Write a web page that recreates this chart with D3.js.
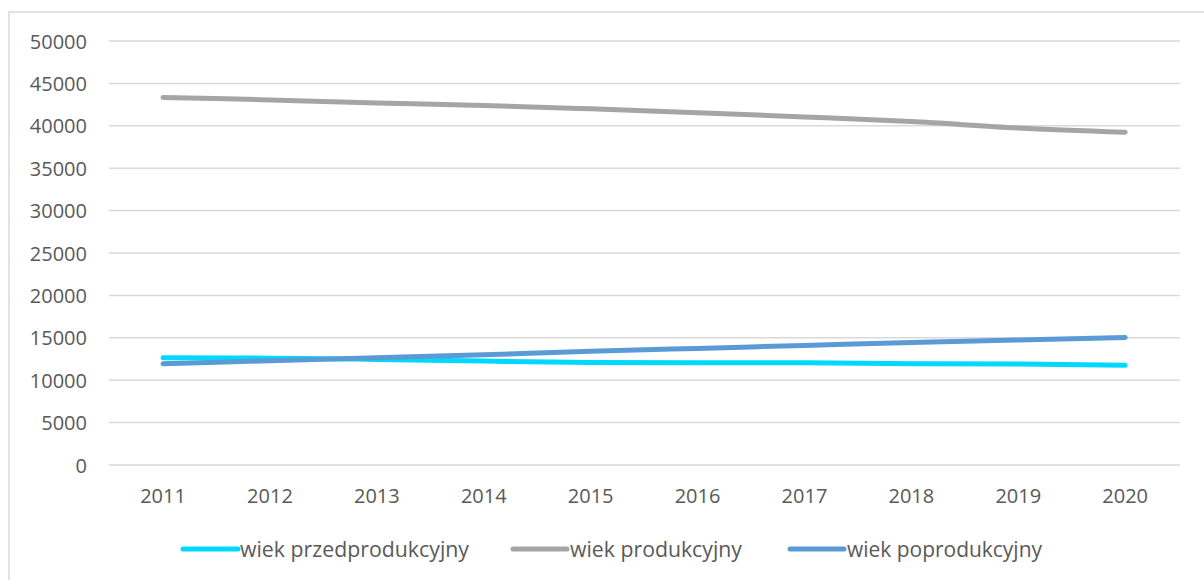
<!DOCTYPE html>
<html>
<head>
<meta charset="utf-8">
<script src="https://cdn.jsdelivr.net/npm/d3@7"></script>
<style>
  html, body { margin: 0; padding: 0; background: #fff; }
  svg { display: block; }
  text { font-family: "Open Sans", sans-serif; fill: #595959; }
</style>
</head>
<body>
<svg id="chart" width="1204" height="580"></svg>
<script>
const years = ["2011","2012","2013","2014","2015","2016","2017","2018","2019","2020"];
const przedprodukcyjny = [12650, 12600, 12450, 12250, 12100, 12050, 12050, 11950, 11900, 11750];
const produkcyjny      = [43350, 43050, 42700, 42400, 42000, 41550, 41050, 40500, 39750, 39250];
const poprodukcyjny    = [11950, 12300, 12650, 13000, 13400, 13750, 14100, 14450, 14750, 15050];
const seriesNames = ["wiek przedprodukcyjny", "wiek produkcyjny", "wiek poprodukcyjny"];
const yTicks = [0, 5000, 10000, 15000, 20000, 25000, 30000, 35000, 40000, 45000, 50000];

const colors = ["#00D9FF", "#A5A5A5", "#5B9BD5"];
const seriesData = [przedprodukcyjny, produkcyjny, poprodukcyjny];

const svg = d3.select("#chart");

// outer border
svg.append("rect")
  .attr("x", 9).attr("y", 12).attr("width", 1200).attr("height", 580)
  .attr("fill", "none").attr("stroke", "#D9D9D9").attr("stroke-width", 1.5);

const x = d3.scaleBand().domain(years).range([109.6, 1178.6]);
const y = d3.scaleLinear().domain([0, 50000]).range([465, 41]);

// gridlines
svg.append("g").selectAll("line").data(yTicks).join("line")
  .attr("x1", 109).attr("x2", 1180)
  .attr("y1", d => y(d)).attr("y2", d => y(d))
  .attr("stroke", "#D9D9D9").attr("stroke-width", 1.5);

// y axis labels
const yAxis = d3.axisLeft(y).tickValues(yTicks).tickSize(0).tickPadding(0).tickFormat(d3.format("d"));
const gy = svg.append("g").attr("transform", "translate(87,0)").call(yAxis);
gy.select(".domain").remove();
gy.selectAll("text").attr("font-size", 20).attr("font-family", "Open Sans").attr("fill", "#595959").attr("dy", "0.35em");

// x axis labels
const xAxis = d3.axisBottom(x).tickSize(0).tickPadding(0);
const gx = svg.append("g").attr("transform", "translate(0,465)").call(xAxis);
gx.select(".domain").remove();
gx.selectAll("text").attr("font-size", 20).attr("font-family", "Open Sans").attr("fill", "#595959")
  .attr("y", 38).attr("dy", 0);

// lines
const line = d3.line()
  .x((d, i) => x(years[i]) + x.bandwidth() / 2)
  .y(d => y(d))
  .curve(d3.curveCardinal.tension(0));

svg.append("g").selectAll("path").data(seriesData).join("path")
  .attr("d", d => line(d))
  .attr("fill", "none")
  .attr("stroke", (d, i) => colors[i])
  .attr("stroke-width", 5)
  .attr("stroke-linecap", "round")
  .attr("stroke-linejoin", "round");

// legend
const legendItems = [
  { x1: 183, x2: 238, tx: 240, w: 229 },
  { x1: 513, x2: 567, tx: 570, w: 172 },
  { x1: 790, x2: 844, tx: 847, w: 195 }
];
const lg = svg.append("g");
legendItems.forEach((it, i) => {
  lg.append("line")
    .attr("x1", it.x1).attr("x2", it.x2).attr("y1", 549).attr("y2", 549)
    .attr("stroke", colors[i]).attr("stroke-width", 5).attr("stroke-linecap", "round");
  lg.append("text")
    .attr("x", it.tx).attr("y", 557)
    .attr("font-size", 21)
    .attr("textLength", it.w).attr("lengthAdjust", "spacingAndGlyphs")
    .text(seriesNames[i]);
});
</script>
</body>
</html>
